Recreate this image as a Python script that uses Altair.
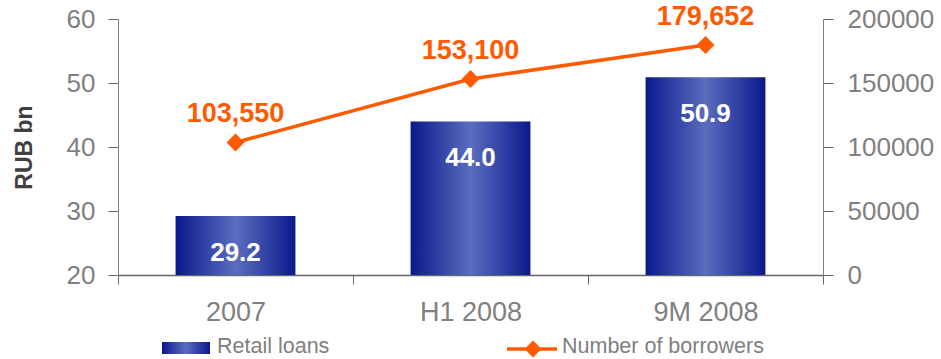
import altair as alt
import pandas as pd

periods = ["2007", "H1 2008", "9M 2008"]
retail_loans = [29.2, 44.0, 50.9]
borrowers = [103550, 153100, 179652]
loan_labels = ["29.2", "44.0", "50.9"]
borrower_labels = ["103,550", "153,100", "179,652"]
legend_names = ["Retail loans", "Number of borrowers"]
left_ticks = [20, 30, 40, 50, 60]
right_ticks = [0, 50000, 100000, 150000, 200000]

df = pd.DataFrame({
    "period": periods,
    "loans": retail_loans,
    "borrowers": borrowers,
    "loan_label": loan_labels,
    "borrower_label": borrower_labels,
})

FONT = "Liberation Sans"
GRAY = "#808080"
ORANGE = "#ff5a00"
W, H = 705, 256

grad = alt.Gradient(
    gradient="linear",
    stops=[
        alt.GradientStop(color="#0a198c", offset=0),
        alt.GradientStop(color="#5b6dbf", offset=0.5),
        alt.GradientStop(color="#0a198c", offset=1),
    ],
    x1=0, x2=1, y1=0, y2=0,
)

x = alt.X(
    "period:N", sort=periods,
    scale=alt.Scale(paddingInner=0, paddingOuter=0),
    axis=alt.Axis(title=None, tickBand="extent", labelFont=FONT, labelFontSize=27,
                  labelColor=GRAY, labelPadding=15, tickSize=9, domainColor="#666666",
                  tickColor="#666666", labelAngle=0, domainWidth=1.5),
)

yl = alt.Y(
    "loans:Q",
    scale=alt.Scale(domain=[20, 60], zero=False, nice=False),
    axis=alt.Axis(title="RUB bn", values=left_ticks, grid=False, tickSize=10,
                  labelFont=FONT, labelFontSize=26, labelColor=GRAY, labelPadding=13,
                  domainColor=GRAY, tickColor="#666666", titleFont=FONT,
                  titleFontSize=23, titleFontWeight="bold", titleColor="#404040",
                  titlePadding=30),
)

bars = alt.Chart(df).mark_bar(color=grad, width=alt.RelativeBandSize(0.51)).encode(
    x=x, y=yl, y2=alt.datum(20)
)
bar_text = alt.Chart(df).mark_text(
    dy=37, font=FONT, fontSize=26, fontWeight="bold", color="white"
).encode(x=x, y=yl, text="loan_label:N")

yr = alt.Y(
    "borrowers:Q",
    scale=alt.Scale(domain=[0, 200000], nice=False),
    axis=alt.Axis(title=None, orient="right", values=right_ticks, format="d",
                  grid=False, tickSize=10, labelFont=FONT, labelFontSize=26,
                  labelColor=GRAY, labelPadding=14, domainColor=GRAY,
                  tickColor="#666666"),
)

line = alt.Chart(df).mark_line(color=ORANGE, strokeWidth=3.5).encode(x=x, y=yr)
pts = alt.Chart(df).mark_point(shape="diamond", filled=True, size=320, opacity=1,
                               color=ORANGE).encode(x=x, y=yr)
line_text = alt.Chart(df).mark_text(
    dy=-28, font=FONT, fontSize=27, fontWeight="bold", color=ORANGE
).encode(x=x, y=yr, text="borrower_label:N")

left = alt.layer(bars, bar_text)
right = alt.layer(line, pts, line_text)

leg1 = pd.DataFrame({"name": [legend_names[0]]})
leg2 = pd.DataFrame({"name": [legend_names[1]]})

leg_rect = alt.Chart(leg1).mark_rect(color=grad).encode(
    x=alt.value(44), x2=alt.value(92), y=alt.value(323), y2=alt.value(335)
)
leg_text1 = alt.Chart(leg1).mark_text(
    align="left", baseline="middle", font=FONT, fontSize=21.5, color=GRAY
).encode(x=alt.value(99), y=alt.value(328), text="name:N")
leg_line = alt.Chart(leg2).mark_rule(color=ORANGE, strokeWidth=3.5).encode(
    x=alt.value(389), x2=alt.value(439), y=alt.value(330)
)
leg_pt = alt.Chart(leg2).mark_point(shape="diamond", filled=True, size=290, opacity=1,
                                    color=ORANGE).encode(x=alt.value(415), y=alt.value(330))
leg_text2 = alt.Chart(leg2).mark_text(
    align="left", baseline="middle", font=FONT, fontSize=21.5, color=GRAY
).encode(x=alt.value(444), y=alt.value(328), text="name:N")

chart = alt.layer(left, right, leg_rect, leg_text1, leg_line, leg_pt, leg_text2).resolve_scale(
    y="independent"
).properties(
    width=W, height=H,
    padding={"left": 118, "top": 19, "right": 118, "bottom": 84},
    autosize=alt.AutoSizeParams(type="none"),
).configure_view(stroke=None)

chart.save("out.html", embed_options={"renderer": "svg", "actions": False})
